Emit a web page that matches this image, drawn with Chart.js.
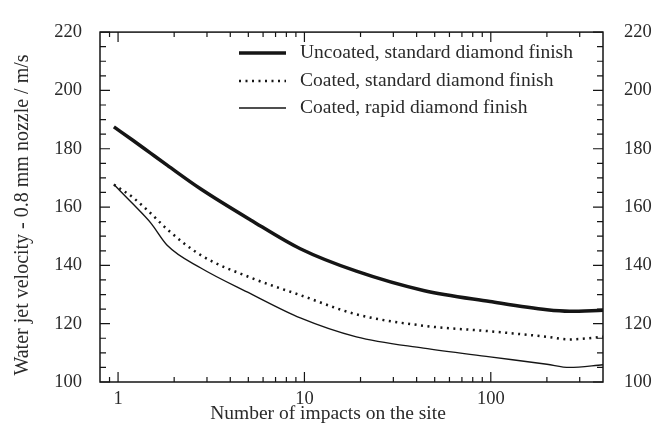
<!DOCTYPE html>
<html>
<head>
<meta charset="utf-8">
<script src="https://cdn.jsdelivr.net/npm/chart.js@4/dist/chart.umd.min.js"></script>
<style>
  body { margin: 0; background: #fff; }
  canvas { display: block; }
</style>
</head>
<body>
<canvas id="chart" width="654" height="423"></canvas>
<script>
// ================= DATA =================

const impacts = [0.95, 1.2, 1.5, 1.84, 2.78, 5.14, 9.5, 19, 43.5, 99, 200, 264, 400];

const uncoatedStd = [187.5, 182.9, 178.4, 174.3, 166.2, 155.6, 145.7, 138, 131.4, 127.6, 124.8, 124.3, 124.6];
const coatedStd   = [167.7, 163.3, 157.8, 152.3, 143.5, 135.8, 129.8, 123.2, 119.3, 117.4, 115.5, 114.6, 115.5];
const coatedRapid = [167.7, 161.1, 154.5, 146.8, 139.1, 130.3, 122.0, 115.5, 111.6, 108.6, 106.1, 105.0, 105.9];

const seriesNames = [
  "Uncoated, standard diamond finish",
  "Coated, standard diamond finish",
  "Coated, rapid diamond finish"
];

const xMajorTicks = [1, 10, 100];
const xMinorTicks = [0.9, 2, 3, 4, 5, 6, 7, 8, 9, 20, 30, 40, 50, 60, 70, 80, 90, 200, 300];
const yTicks = [100, 120, 140, 160, 180, 200, 220];

const xTitle = "Number of impacts on the site";
const yTitle = "Water jet velocity - 0.8 mm nozzle / m/s";

// ================= STYLE =================

const FONT = "'Liberation Serif', 'Times New Roman', serif";
const INK = "#151515";
const TEXT = "#2a2a2a";

const toPoints = ys => impacts.map((x, i) => ({ x, y: ys[i] }));

// frame, inward ticks, axis titles and legend
const framePlugin = {
  id: "frame",
  afterDatasetsDraw(chart) {
    const { ctx, chartArea: a, scales } = chart;
    const xs = scales.x, ys = scales.y;
    ctx.save();
    ctx.strokeStyle = INK;
    ctx.lineWidth = 1.5;
    ctx.strokeRect(a.left, a.top, a.right - a.left, a.bottom - a.top);

    ctx.lineWidth = 1.2;
    ctx.beginPath();
    for (let v = 100; v <= 220; v += 5) {
      const py = ys.getPixelForValue(v);
      const len = yTicks.includes(v) ? 10 : 6;
      ctx.moveTo(a.left, py); ctx.lineTo(a.left + len, py);
      ctx.moveTo(a.right, py); ctx.lineTo(a.right - len, py);
    }
    xMajorTicks.concat(xMinorTicks).forEach(v => {
      const px = xs.getPixelForValue(v);
      const len = xMajorTicks.includes(v) ? 10 : 5;
      ctx.moveTo(px, a.bottom); ctx.lineTo(px, a.bottom - len);
      ctx.moveTo(px, a.top); ctx.lineTo(px, a.top + len);
    });
    ctx.stroke();

    ctx.fillStyle = TEXT;
    ctx.font = "19.5px " + FONT;
    ctx.textAlign = "center";
    ctx.textBaseline = "alphabetic";
    ctx.fillText(xTitle, 328, 419);

    ctx.save();
    ctx.translate(23, 215);
    ctx.rotate(-Math.PI / 2);
    ctx.font = "20px " + FONT;
    ctx.textBaseline = "middle";
    ctx.fillText(yTitle, 0, 0);
    ctx.restore();

    // legend
    const rows = [53, 81, 108];
    ctx.font = "19.5px " + FONT;
    ctx.textBaseline = "middle";
    chart.data.datasets.forEach((ds, i) => {
      const y = rows[i];
      ctx.strokeStyle = ds.borderColor;
      ctx.lineWidth = ds.borderWidth;
      ctx.setLineDash(ds.borderDash || []);
      ctx.beginPath();
      ctx.moveTo(239, y); ctx.lineTo(286, y);
      ctx.stroke();
      ctx.setLineDash([]);
      ctx.textAlign = "left";
      ctx.fillText(ds.label, 300, y);
    });
    ctx.restore();
  }
};

// ================= CHART =================

new Chart(document.getElementById("chart"), {
  type: "line",
  data: {
    datasets: [
      {
        label: seriesNames[0],
        data: toPoints(uncoatedStd),
        borderColor: INK,
        borderWidth: 3.5,
        pointRadius: 0,
        cubicInterpolationMode: "monotone"
      },
      {
        label: seriesNames[1],
        data: toPoints(coatedStd),
        borderColor: INK,
        borderWidth: 2.5,
        borderDash: [2, 4.5],
        pointRadius: 0,
        cubicInterpolationMode: "monotone"
      },
      {
        label: seriesNames[2],
        data: toPoints(coatedRapid),
        borderColor: INK,
        borderWidth: 1.4,
        pointRadius: 0,
        cubicInterpolationMode: "monotone"
      }
    ]
  },
  options: {
    responsive: false,
    animation: false,
    devicePixelRatio: 1,
    layout: { padding: { top: 18, left: 0, right: 0, bottom: 0 } },
    plugins: {
      legend: { display: false },
      tooltip: { enabled: false }
    },
    scales: {
      x: {
        type: "logarithmic",
        position: "bottom",
        min: 0.8,
        max: 400,
        afterBuildTicks: s => { s.ticks = xMajorTicks.map(v => ({ value: v })); },
        afterFit: s => { s.height = 41; },
        grid: { display: false, drawTicks: false },
        border: { display: false },
        ticks: {
          callback: v => String(v),
          autoSkip: false,
          maxRotation: 0,
          padding: 6,
          color: TEXT,
          font: { family: FONT, size: 18.5 }
        }
      },
      y: {
        position: "left",
        min: 100,
        max: 220,
        afterBuildTicks: s => { s.ticks = yTicks.map(v => ({ value: v })); },
        afterFit: s => { s.width = 100; },
        grid: { display: false, drawTicks: false },
        border: { display: false },
        ticks: {
          padding: 18,
          color: TEXT,
          font: { family: FONT, size: 18.5 }
        }
      },
      y2: {
        position: "right",
        min: 100,
        max: 220,
        afterBuildTicks: s => { s.ticks = yTicks.map(v => ({ value: v })); },
        afterFit: s => { s.width = 51; },
        grid: { display: false, drawTicks: false },
        border: { display: false },
        ticks: {
          padding: 21,
          color: TEXT,
          font: { family: FONT, size: 18.5 }
        }
      }
    }
  },
  plugins: [framePlugin]
});
</script>
</body>
</html>
